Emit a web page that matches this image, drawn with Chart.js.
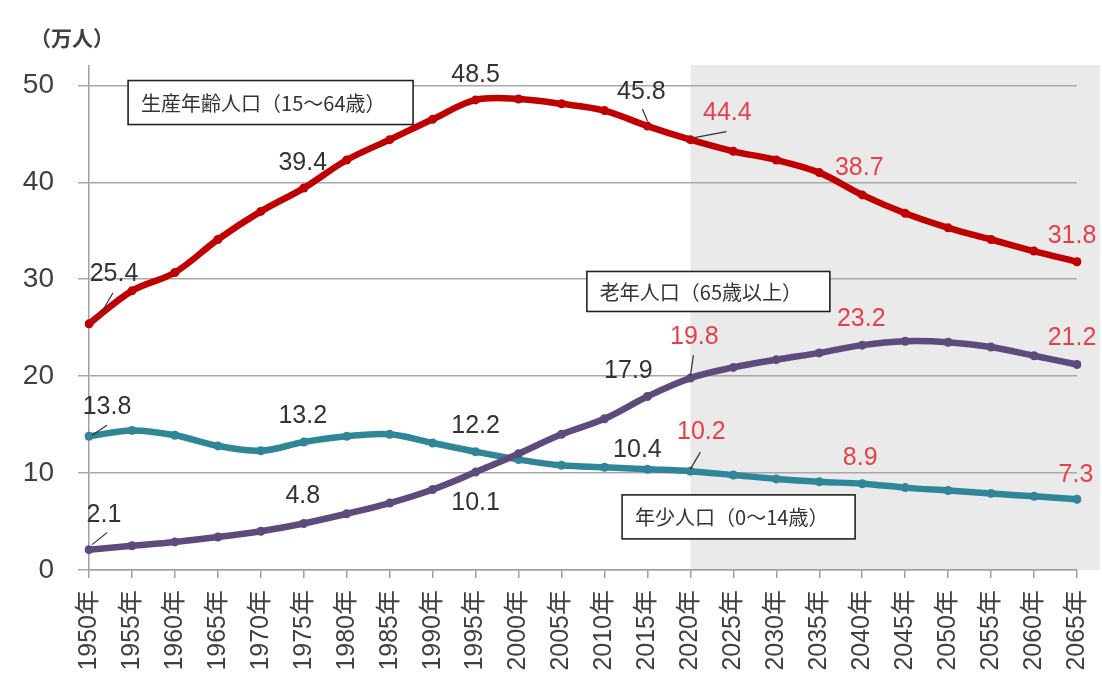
<!DOCTYPE html>
<html lang="ja">
<head>
<meta charset="utf-8">
<title>人口の推移</title>
<script src="https://cdn.jsdelivr.net/npm/chart.js@4"></script>
<style>
html,body{margin:0;padding:0;background:#fff;}
canvas{display:block;}
</style>
</head>
<body>
<canvas id="chart" width="1102" height="688"></canvas>
<script>
const years = ["1950年","1955年","1960年","1965年","1970年","1975年","1980年","1985年","1990年","1995年","2000年","2005年",
"2010年","2015年","2020年","2025年","2030年","2035年","2040年","2045年","2050年","2055年","2060年","2065年"];

const workingAge = [25.4,28.8,30.7,34.1,37.0,39.4,42.3,44.4,46.5,48.5,48.6,48.1,47.4,45.8,44.4,43.2,42.3,41.0,38.7,36.8,35.3,34.1,32.9,31.8];
const elderly = [2.1,2.5,2.9,3.4,4.0,4.8,5.8,6.9,8.3,10.1,12.0,14.0,15.6,17.9,19.8,20.9,21.7,22.4,23.2,23.6,23.5,23.0,22.1,21.2];
const youth = [13.8,14.4,13.9,12.8,12.3,13.2,13.8,14.0,13.1,12.2,11.4,10.8,10.6,10.4,10.2,9.8,9.4,9.1,8.9,8.5,8.2,7.9,7.6,7.3];

const yTicks = [0,10,20,30,40,50];
const forecastFrom = "2020年";
const unitLabel = "（万人）";

const seriesNames = ["生産年齢人口（15～64歳）","老年人口（65歳以上）","年少人口（0～14歳）"];
const seriesColors = ["#C00000","#5F4A7E","#2F8699"];

const fontLatin = '"Liberation Sans", "Noto Sans CJK JP", sans-serif';
const fontJp = '"Noto Sans CJK JP", sans-serif';

// s = series, i = point index, dx/dy = text centre from the point, line = leader from/to (relative to point)
const callouts = [
{s:0,i:0,dx:25,dy:-50,line:[13,-12,24,-31]},
{s:0,i:5,dx:-1,dy:-25},
{s:0,i:9,dx:0,dy:-25},
{s:0,i:13,dx:-6,dy:-34,line:[-5,-17,0,-5]},
{s:0,i:14,dx:37,dy:-27,line:[4,-2,36,-8]},
{s:0,i:18,dx:-3,dy:-27},
{s:0,i:23,dx:-5,dy:-26},
{s:1,i:0,dx:15,dy:-35,line:[3,-5,18,-17]},
{s:1,i:5,dx:-1,dy:-27},
{s:1,i:9,dx:0,dy:31},
{s:1,i:13,dx:-19,dy:-25},
{s:1,i:14,dx:4,dy:-41,line:[3,-23,0,-2]},
{s:1,i:18,dx:-1,dy:-26},
{s:1,i:23,dx:-5,dy:-26},
{s:2,i:0,dx:18,dy:-29,line:[3,-1,18,-11]},
{s:2,i:5,dx:-1,dy:-26},
{s:2,i:9,dx:0,dy:-26},
{s:2,i:13,dx:-10,dy:-19},
{s:2,i:14,dx:11,dy:-39,line:[0,-2,10,-19]},
{s:2,i:18,dx:-2,dy:-26},
{s:2,i:23,dx:-1,dy:-24}
];

// name boxes, anchored in axis units (x = category index, y = value of top edge)
const boxes = [
{s:0,xi:0.91,yv:50.5,w:285,h:44},
{s:1,xi:11.59,yv:30.8,w:243,h:40},
{s:2,xi:12.41,yv:7.75,w:233,h:44}
];

const annotate = {
id:"annotate",
beforeDraw(chart){
const {ctx, chartArea, scales:{x}} = chart;
const left = x.getPixelForValue(years.indexOf(forecastFrom));
ctx.save();
ctx.fillStyle = "#EAEAEA";
ctx.fillRect(left, chartArea.top - 1, chart.width - 2 - left, chartArea.bottom - chartArea.top + 1);
ctx.restore();
},
afterDatasetsDraw(chart){
const {ctx, chartArea, scales:{x,y}} = chart;
const fIdx = years.indexOf(forecastFrom);
ctx.save();

// leader lines
ctx.strokeStyle = "#303030";
ctx.lineWidth = 1.2;
callouts.forEach(c=>{
if(!c.line) return;
const p = chart.getDatasetMeta(c.s).data[c.i];
ctx.beginPath();
ctx.moveTo(p.x + c.line[0], p.y + c.line[1]);
ctx.lineTo(p.x + c.line[2], p.y + c.line[3]);
ctx.stroke();
});

// value labels
ctx.font = "25px " + fontLatin;
ctx.textAlign = "center";
ctx.textBaseline = "middle";
callouts.forEach(c=>{
const p = chart.getDatasetMeta(c.s).data[c.i];
const v = chart.data.datasets[c.s].data[c.i];
ctx.fillStyle = c.i >= fIdx ? "#E8404A" : "#333333";
ctx.fillText(v.toFixed(1), p.x + c.dx, p.y + c.dy);
});

// series name boxes
boxes.forEach(b=>{
const left = x.getPixelForValue(b.xi);
const top = y.getPixelForValue(b.yv);
ctx.fillStyle = "#FFFFFF";
ctx.fillRect(left, top, b.w, b.h);
ctx.strokeStyle = "#222222";
ctx.lineWidth = 1.6;
ctx.strokeRect(left, top, b.w, b.h);
ctx.fillStyle = "#333333";
ctx.font = "20px " + fontJp;
ctx.textAlign = "left";
ctx.fillText(seriesNames[b.s], left + 13, top + b.h/2 + 1);
});

// unit
ctx.font = "bold 21px " + fontJp;
ctx.textAlign = "center";
ctx.fillStyle = "#404040";
ctx.fillText(unitLabel, chartArea.left - 17, chartArea.top - 28);

ctx.restore();
}
};

function lineSet(label, data, color){
return {
label:label,
data:data,
borderColor:color,
backgroundColor:color,
borderWidth:6.5,
pointRadius:4.5,
pointBackgroundColor:color,
pointBorderColor:color,
pointBorderWidth:0,
tension:0.35,
fill:false
};
}

const ctx = document.getElementById("chart");

const chart = new Chart(ctx,{
type:"line",
data:{
labels:years,
datasets:[
lineSet(seriesNames[0], workingAge, seriesColors[0]),
lineSet(seriesNames[1], elderly, seriesColors[1]),
lineSet(seriesNames[2], youth, seriesColors[2])
]
},
options:{
responsive:false,
devicePixelRatio:1,
animation:false,
layout:{padding:{top:66,right:25,left:0,bottom:0}},
plugins:{legend:{display:false},tooltip:{enabled:false}},
scales:{
x:{
type:"category",
offset:false,
border:{color:"#A0A0A0",width:1.5},
grid:{drawOnChartArea:false,tickLength:8,color:"#A0A0A0",lineWidth:1.5},
ticks:{
autoSkip:false,
minRotation:90,
maxRotation:90,
padding:12,
color:"#404040",
font:{family:fontLatin,size:25}
},
afterFit(scale){
scale.height = 118;
scale.paddingLeft = 0;
scale.paddingRight = 0;
}
},
y:{
min:0,
max:52,
border:{color:"#A0A0A0",width:1.5},
grid:{color:"#A8A8A8",lineWidth:1.5,tickLength:11},
ticks:{
stepSize:10,
padding:24,
color:"#404040",
font:{family:fontLatin,size:28}
},
afterBuildTicks(scale){ scale.ticks = yTicks.map(v=>({value:v})); },
afterFit(scale){ scale.width = 89; }
}
}
},
plugins:[annotate]
});
</script>
</body>
</html>
